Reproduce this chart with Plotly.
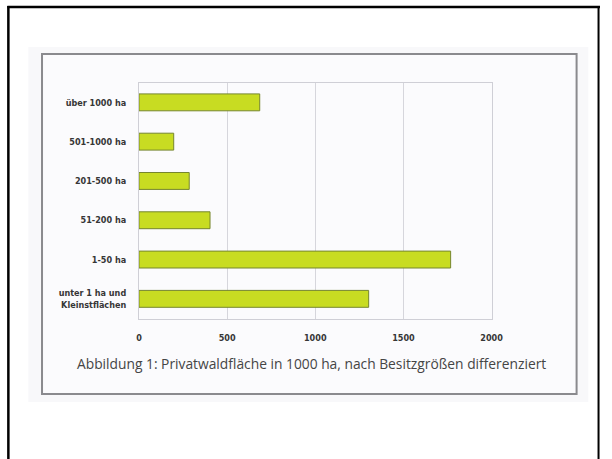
import plotly.graph_objects as go

# Private forest area by ownership size class (in 1000 ha)
categories = [
    "unter 1 ha und<br>Kleinstflächen",
    "1-50 ha",
    "51-200 ha",
    "201-500 ha",
    "501-1000 ha",
    "über 1000 ha",
]
area_1000ha = [1303, 1768, 403, 285, 197, 685]
x_ticks = [0, 500, 1000, 1500, 2000]
caption = "Abbildung 1: Privatwaldfläche in 1000 ha, nach Besitzgrößen differenziert"

W, H = 612, 459


def px_x(v):
    return v / W


def px_y(v):
    return 1 - v / H


label_font = dict(family="DejaVu Sans Condensed, DejaVu Sans", size=9, color="#363636")

fig = go.Figure(
    go.Bar(
        x=area_1000ha,
        y=categories,
        orientation="h",
        marker=dict(color="#c8dc22", line=dict(color="#76862e", width=1)),
        width=0.43,
        hoverinfo="x+y",
    )
)

fig.update_layout(
    width=W,
    height=H,
    margin=dict(l=0, r=0, t=0, b=0),
    paper_bgcolor="white",
    plot_bgcolor="#fbfbfd",
    showlegend=False,
    xaxis=dict(
        domain=[px_x(139.4), px_x(500.8)],
        range=[0, 2000],
        tickvals=x_ticks,
        ticktext=[f"<b>{t}</b>" for t in x_ticks],
        tickfont=label_font,
        showgrid=True,
        gridcolor="#d6d6dc",
        gridwidth=1,
        zeroline=False,
        showline=True,
        linecolor="#cfcfd6",
        linewidth=1,
        mirror=True,
        ticks="",
        ticklabelstandoff=11,
        fixedrange=True,
    ),
    yaxis=dict(
        domain=[px_y(318.5), px_y(82.7)],
        categoryorder="array",
        categoryarray=categories,
        tickvals=categories,
        ticktext=[f"<b>{c}</b>" for c in categories],
        tickfont=label_font,
        showgrid=False,
        zeroline=False,
        showline=True,
        linecolor="#cfcfd6",
        linewidth=1,
        mirror=True,
        ticks="",
        ticklabelstandoff=10,
        fixedrange=True,
    ),
    shapes=[
        # faint halo around the card
        dict(type="rect", xref="paper", yref="paper", layer="below",
             x0=px_x(26), x1=px_x(600), y0=px_y(402), y1=px_y(47),
             fillcolor="#f8f8fa", line=dict(width=0)),
        # card
        dict(type="rect", xref="paper", yref="paper", layer="below",
             x0=px_x(40), x1=px_x(588), y0=px_y(394), y1=px_y(54),
             fillcolor="#fbfbfd", line=dict(color="#8a8a8e", width=2)),
        # outer frame
        dict(type="line", xref="paper", yref="paper",
             x0=px_x(5.5), x1=px_x(5.5), y0=0, y1=px_y(6),
             line=dict(color="black", width=2.5)),
        dict(type="line", xref="paper", yref="paper",
             x0=px_x(4.5), x1=1, y0=px_y(7), y1=px_y(7),
             line=dict(color="black", width=2.5)),
        dict(type="line", xref="paper", yref="paper",
             x0=px_x(610.5), x1=px_x(610.5), y0=0, y1=px_y(6),
             line=dict(color="black", width=2)),
    ],
    annotations=[
        dict(text=caption, xref="paper", yref="paper",
             x=px_x(316), y=px_y(363), xanchor="center", yanchor="middle",
             showarrow=False,
             font=dict(family="Open Sans, DejaVu Sans", size=13.8, color="#454545")),
    ],
)

fig.write_html("out.html")
